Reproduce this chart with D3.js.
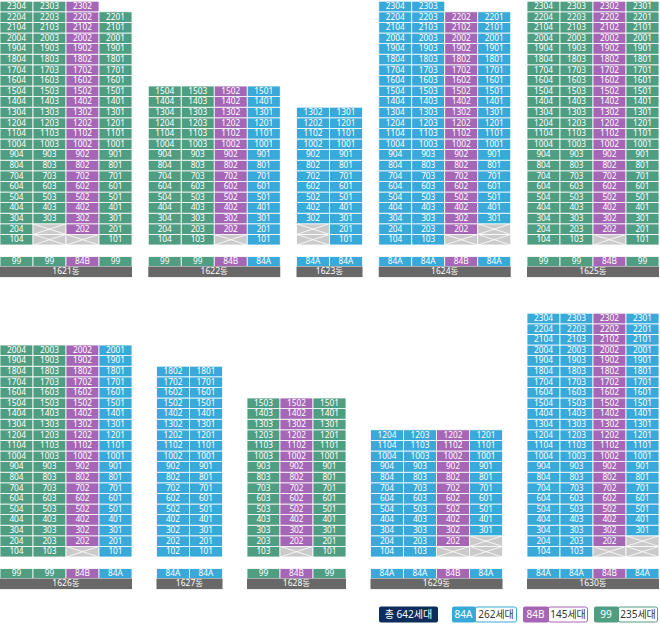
<!DOCTYPE html>
<html><head><meta charset="utf-8">
<script src="https://cdn.jsdelivr.net/npm/d3@7"></script>
<style>
html,body{margin:0;padding:0;background:#fff;}
svg{display:block;}
text{font-family:"Noto Sans","Noto Sans CJK KR",sans-serif;}
</style></head>
<body><svg id="chart" width="660" height="630"></svg>
<script>
// ---- data ----
const buildings   = ["1621동","1622동","1623동","1624동","1625동","1626동","1627동","1628동","1629동","1630동"];
const buildingRow = [0,0,0,0,0,1,1,1,1,1];
const floorCount  = [23,15,13,23,23,20,18,15,12,23];
const lineNumbers = [[4,3,2,1],[4,3,2,1],[2,1],[4,3,2,1],[4,3,2,1],[4,3,2,1],[2,1],[3,2,1],[4,3,2,1],[4,3,2,1]];
const lineTypes   = [["99","99","84B","99"],["99","99","84B","84A"],["84A","84A"],["84A","84A","84B","84A"],["99","99","84B","99"],
                     ["99","99","84B","84A"],["84A","84A"],["99","84B","99"],["84A","84A","84B","84A"],["84A","84A","84B","84A"]];
// lowest existing floor per line (floors below are drawn crossed out)
const lowFloor    = [[1,3,2,1],[1,1,2,1],[3,1],[1,1,2,3],[1,1,2,1],[1,1,2,1],[1,1],[1,2,1],[1,1,2,3],[1,1,2,3]];
// highest existing floor per line (floors above are empty)
const topFloor    = [[23,23,23,22],[15,15,15,15],[13,13],[23,23,22,22],[23,23,23,23],[20,20,20,20],[18,18],[15,15,15],[12,12,12,12],[23,23,23,23]];
const legendTypes  = ["84A","84B","99"];
const legendCounts = [262,145,235];
const totalUnits   = 642;

// ---- style ----
const typeColor = {"84A":"#38a9d9","84B":"#a666b6","99":"#4f9e82"};
const crossFill = "#cacaca";
const W = 659, colW = 33, rowH = 10.6;
const rowBottom = [245, 557];
const svg = d3.select("#chart");

const rows = [0,1].map(r => d3.range(buildings.length).filter(i => buildingRow[i] === r));
rows.forEach((idxs, r) => {
  const totalCols = d3.sum(idxs, i => lineNumbers[i].length);
  const gap = (W - totalCols*colW) / (idxs.length - 1);
  let x0 = 0;
  const yScale = d3.scaleLinear().domain([0, 1]).range([rowBottom[r], rowBottom[r] - rowH]);
  idxs.forEach(i => {
    const nc = lineNumbers[i].length;
    const xs = d3.scaleBand().domain(d3.range(nc)).range([x0, x0 + nc*colW]);
    const g = svg.append("g");
    const cells = [];
    lineNumbers[i].forEach((ln, c) => {
      for (let f = 1; f <= topFloor[i][c]; f++) {
        cells.push({c, f, type: lineTypes[i][c], crossed: f < lowFloor[i][c], label: String(f*100 + ln)});
      }
    });
    const rg = g.append("g"), xg = g.append("g"), lgp = g.append("g");
    rg.selectAll("rect").data(cells).join("rect")
      .attr("x", d => xs(d.c)).attr("y", d => yScale(d.f))
      .attr("width", xs.bandwidth()).attr("height", d => yScale(d.f-1) - yScale(d.f))
      .attr("fill", d => d.crossed ? crossFill : typeColor[d.type])
      .attr("stroke", "#fff").attr("stroke-width", 0.8);
    const crossed = cells.filter(d => d.crossed);
    xg.selectAll("path").data(crossed).join("path")
      .attr("d", d => {
        const x1 = xs(d.c), x2 = xs(d.c)+xs.bandwidth(), y1 = yScale(d.f), y2 = yScale(d.f-1);
        return `M${x1},${y1}L${x2},${y2}M${x1},${y2}L${x2},${y1}`;
      })
      .attr("stroke","#fff").attr("stroke-width",0.8).attr("fill","none");
    lgp.selectAll("text").data(cells.filter(d => !d.crossed)).join("text")
      .attr("x", d => xs(d.c) + xs.bandwidth()/2).attr("y", d => (yScale(d.f) + yScale(d.f-1))/2 + 0.3)
      .attr("text-anchor","middle").attr("dominant-baseline","middle")
      .attr("fill","#fff").attr("font-size","8.3px").text(d => d.label);
    // type row
    const ty = rowBottom[r] + 11.5, th = 10;
    const tg = g.selectAll("g.type").data(lineTypes[i]).join("g").attr("class","type");
    tg.append("rect").attr("x",(d,c)=>xs(c)).attr("y",ty).attr("width",xs.bandwidth()).attr("height",th)
      .attr("fill", d => typeColor[d]).attr("stroke","#fff").attr("stroke-width",0.8);
    tg.append("text").attr("x",(d,c)=>xs(c)+xs.bandwidth()/2).attr("y",ty+th/2+0.3)
      .attr("text-anchor","middle").attr("dominant-baseline","middle")
      .attr("fill","#fff").attr("font-size","8.3px").text(d => d);
    // building label
    g.append("rect").attr("x",x0).attr("y",ty+th).attr("width",nc*colW).attr("height",10.6).attr("fill","#686868");
    g.append("text").attr("x",x0+nc*colW/2).attr("y",ty+th+5.6)
      .attr("text-anchor","middle").attr("dominant-baseline","middle")
      .attr("fill","#fff").attr("font-size","8.5px").text(buildings[i]);
    x0 += nc*colW + gap;
  });
});

// ---- legend ----
const lg = svg.append("g");
const ly = 606.5, lh = 16;
lg.append("rect").attr("x",379).attr("y",ly).attr("width",59).attr("height",lh).attr("rx",2).attr("fill","#0c2d5c");
lg.append("text").attr("x",408.5).attr("y",ly+lh/2+0.5).attr("text-anchor","middle").attr("dominant-baseline","middle")
  .attr("fill","#fff").attr("font-size","10px").text("총 " + totalUnits + "세대");
const lx = [452, 523, 594], tw = [23, 25, 24], cw = [42, 40, 40];
legendTypes.forEach((t, k) => {
  lg.append("rect").attr("x",lx[k]+tw[k]).attr("y",ly+0.5).attr("width",cw[k]-0.5).attr("height",lh-1).attr("rx",2)
    .attr("fill","#fff").attr("stroke",typeColor[t]).attr("stroke-width",1);
  lg.append("rect").attr("x",lx[k]).attr("y",ly).attr("width",tw[k]+1).attr("height",lh).attr("rx",2).attr("fill",typeColor[t]);
  lg.append("text").attr("x",lx[k]+tw[k]/2).attr("y",ly+lh/2+0.5).attr("text-anchor","middle").attr("dominant-baseline","middle")
    .attr("fill","#fff").attr("font-size","10px").text(t);
  lg.append("text").attr("x",lx[k]+tw[k]+cw[k]/2).attr("y",ly+lh/2+0.5).attr("text-anchor","middle").attr("dominant-baseline","middle")
    .attr("fill","#333").attr("font-size","10px").text(legendCounts[k] + "세대");
});
</script></body></html>
